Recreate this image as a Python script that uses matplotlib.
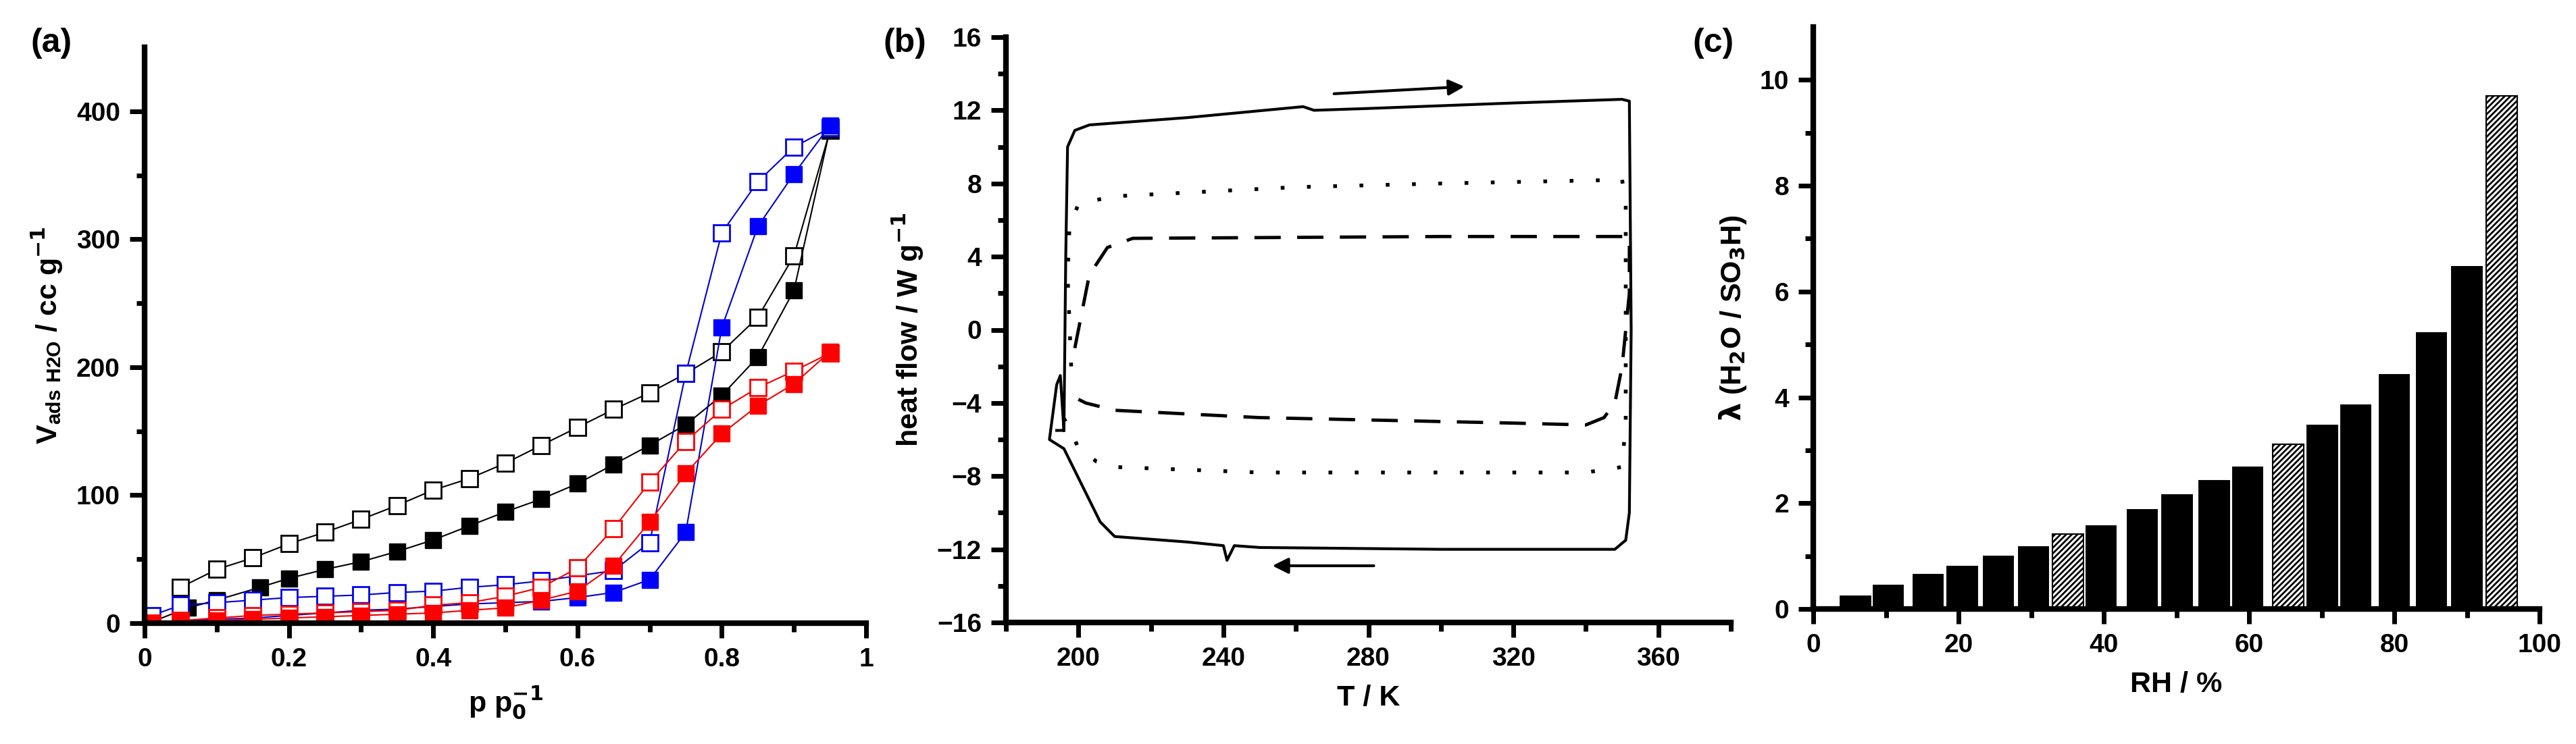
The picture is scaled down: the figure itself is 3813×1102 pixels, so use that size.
import matplotlib
matplotlib.use("Agg")
import matplotlib.pyplot as plt
import numpy as np

plt.rcParams["font.family"] = ["Liberation Sans", "DejaVu Sans"]
plt.rcParams["font.weight"] = "bold"
plt.rcParams["hatch.linewidth"] = 2.0
plt.rcParams["mathtext.default"] = "bf"

# ---- panel (a): water adsorption isotherms ----
p_black = [0.05, 0.1, 0.15, 0.2, 0.25, 0.3, 0.35, 0.4, 0.45, 0.5, 0.55, 0.6, 0.65, 0.7, 0.75, 0.8, 0.85, 0.9, 0.95]
black_open = [28, 42, 51, 62, 71, 81, 92, 104, 113, 125, 139, 153, 167, 180, 195, 212, 239, 287, 385]
p_black_f = [0.01, 0.06, 0.1, 0.16, 0.2, 0.25, 0.3, 0.35, 0.4, 0.45, 0.5, 0.55, 0.6, 0.65, 0.7, 0.75, 0.8, 0.85, 0.9, 0.95]
black_fill = [1, 12, 18, 28, 35, 42, 48, 56, 65, 76, 87, 97, 109, 124, 139, 155, 178, 208, 260, 386]
p_col = [0.01, 0.05, 0.1, 0.15, 0.2, 0.25, 0.3, 0.35, 0.4, 0.45, 0.5, 0.55, 0.6, 0.65, 0.7, 0.75, 0.8, 0.85, 0.9, 0.95]
blue_open = [6, 14, 16, 18, 20, 21, 22, 24, 25, 28, 30, 33, 37, 41, 63, 195, 305, 345, 372, 387]
blue_fill = [0, 2, 3, 4, 6, 8, 10, 11, 13, 15, 16, 17, 20, 24, 34, 71, 231, 310, 351, 389]
red_open = [0, 2, 4, 6, 7, 8, 9, 10, 14, 16, 21, 28, 43, 74, 110, 142, 167, 184, 197, 211]
red_fill = [0, 1, 2, 3, 4, 5, 6, 7, 8, 10, 12, 18, 25, 45, 79, 117, 148, 170, 187, 212]

# ---- panel (b): DSC loops (T, heat flow) ----
solid_T = [194, 196, 196.5, 197, 199, 203, 230, 262, 265, 280, 320, 350, 352, 352.5, 352, 351, 348, 300, 250, 243, 241, 240, 230, 210, 206, 196, 192, 194, 195, 196]
solid_q = [-5.5, -5.5, 4, 10, 10.9, 11.2, 11.6, 12.2, 12.0, 12.1, 12.4, 12.6, 12.5, 0, -10, -11.5, -12, -12, -11.9, -11.8, -12.6, -11.8, -11.6, -11.3, -10.5, -6.5, -6.0, -3.0, -2.5, -5.5]
dot_T = [198, 197, 197.5, 200, 210, 260, 300, 350, 351, 351, 350, 340, 250, 210, 205, 200, 198, 194]
dot_q = [-2, 3, 5.5, 6.9, 7.3, 7.8, 8.0, 8.2, 7, -5, -7.5, -7.8, -7.8, -7.5, -7.2, -6.5, -5.5, -4.2]
dash_T = [199, 201, 203, 208, 215, 300, 352, 352, 350, 348, 345, 340, 320, 250, 210, 202, 200]
dash_q = [-1, 1, 3, 4.5, 5.0, 5.1, 5.1, 2, -2, -4, -4.8, -5.2, -5.1, -4.8, -4.4, -4.0, -3.8]

# ---- panel (c): lambda vs RH ----
rh = [5.8, 10.3, 15.8, 20.5, 25.5, 30.3, 35.1, 39.6, 45.3, 50.1, 55.2, 59.8, 65.4, 70.1, 74.7, 80.0, 85.1, 90.0, 94.8]
lam = [0.27, 0.47, 0.68, 0.83, 1.02, 1.2, 1.42, 1.6, 1.9, 2.18, 2.45, 2.7, 3.12, 3.5, 3.88, 4.45, 5.25, 6.5, 9.7]
hatched = [False] * 6 + [True] + [False] * 5 + [True] + [False] * 5 + [True]

TICK_FS = 28
LABEL_FS = 31

fig = plt.figure(figsize=(38.13, 11.02), dpi=100)


def style(ax):
    for s in ("top", "right"):
        ax.spines[s].set_visible(False)
    for s in ("left", "bottom"):
        ax.spines[s].set_linewidth(6)
    ax.tick_params(which="major", direction="out", length=16, width=5, labelsize=TICK_FS, pad=10)
    ax.tick_params(which="minor", direction="out", length=9, width=5)
    for lab in ax.get_xticklabels() + ax.get_yticklabels():
        lab.set_fontweight("bold")


# (a)
ax = fig.add_axes([214 / 3813, 1 - 923 / 1102, (1282 - 214) / 3813, (923 - 70) / 1102])
ms = 17
ax.plot(p_black, black_open, "s-", color="black", mfc="white", mec="black", mew=2, ms=ms, lw=1.5)
ax.plot(p_black_f, black_fill, "s-", color="black", ms=ms, lw=1.5)
ax.plot(p_col, blue_open, "s-", color="#0000cc", mfc="white", mec="#0000ee", mew=2, ms=ms, lw=1.5)
ax.plot(p_col, blue_fill, "s-", color="#0000cc", mfc="#0000ff", mec="#0000ff", ms=ms, lw=1.5)
ax.plot(p_col, red_open, "s-", color="#ee0000", mfc="white", mec="#ff0000", mew=2, ms=ms, lw=1.5)
ax.plot(p_col, red_fill, "s-", color="#ee0000", mfc="#ff0000", mec="#ff0000", ms=ms, lw=1.5)
ax.set_xlim(0, 1)
ax.set_ylim(0, 450)
ax.set_xticks([0, 0.2, 0.4, 0.6, 0.8, 1])
ax.set_xticklabels(["0", "0.2", "0.4", "0.6", "0.8", "1"])
ax.set_xticks(np.arange(0.1, 1, 0.2), minor=True)
ax.set_yticks([0, 100, 200, 300, 400])
ax.set_yticks([50, 150, 250, 350], minor=True)
ax.set_xlabel(r"p p$_0^{-1}$", fontsize=LABEL_FS, fontweight="bold", labelpad=14)
ax.set_ylabel(r"V$_\mathregular{ads\ H2O}$ / cc g$^{-1}$", fontsize=LABEL_FS, fontweight="bold", labelpad=12)
style(ax)
fig.text(0.012, 0.93, "(a)", fontsize=36, fontweight="bold")

# (b)
ax = fig.add_axes([1489 / 3813, 1 - 922 / 1102, (2562 - 1489) / 3813, (922 - 55) / 1102])
ax.plot(solid_T, solid_q, "-", color="black", lw=3)
ax.plot(dot_T, dot_q, color="black", lw=4, linestyle=(0, (1, 6)))
ax.plot(dash_T, dash_q, "--", color="black", lw=3.5, dashes=(8, 5))
ax.annotate("", xy=(307, 13.3), xytext=(270, 12.9),
            arrowprops=dict(arrowstyle="-|>", color="black", lw=3, mutation_scale=35))
ax.annotate("", xy=(253, -12.9), xytext=(282, -12.9),
            arrowprops=dict(arrowstyle="-|>", color="black", lw=3, mutation_scale=35))
ax.set_xlim(180, 380)
ax.set_ylim(-16, 16)
ax.set_xticks([200, 240, 280, 320, 360])
ax.set_xticks([180, 220, 260, 300, 340, 380], minor=True)
ax.set_yticks(np.arange(-16, 17, 4))
ax.set_yticks(np.arange(-14, 16, 4), minor=True)
ax.set_xlabel("T / K", fontsize=LABEL_FS, fontweight="bold", labelpad=14)
ax.set_ylabel(r"heat flow / W g$^{-1}$", fontsize=LABEL_FS, fontweight="bold", labelpad=12)
style(ax)
fig.text(0.343, 0.93, "(b)", fontsize=36, fontweight="bold")

# (c)
ax = fig.add_axes([2684 / 3813, 1 - 902 / 1102, (3759 - 2684) / 3813, (902 - 40) / 1102])
for x, h, hat in zip(rh, lam, hatched):
    if hat:
        ax.bar(x, h, width=4.3, color="white", edgecolor="black", hatch="////", lw=1.5)
    else:
        ax.bar(x, h, width=4.5, color="black", edgecolor="white", lw=1.5)
ax.set_xlim(0, 100)
ax.set_ylim(0, 11)
ax.set_xticks([0, 20, 40, 60, 80, 100])
ax.set_xticks([10, 30, 50, 70, 90], minor=True)
ax.set_yticks([0, 2, 4, 6, 8, 10])
ax.set_yticks([1, 3, 5, 7, 9], minor=True)
ax.set_xlabel("RH / %", fontsize=LABEL_FS, fontweight="bold", labelpad=14)
ax.set_ylabel(r"$\lambda$ (H$_2$O / SO$_3$H)", fontsize=LABEL_FS, fontweight="bold", labelpad=12)
style(ax)
fig.text(0.657, 0.93, "(c)", fontsize=36, fontweight="bold")

fig.savefig("out.png", dpi=100)
